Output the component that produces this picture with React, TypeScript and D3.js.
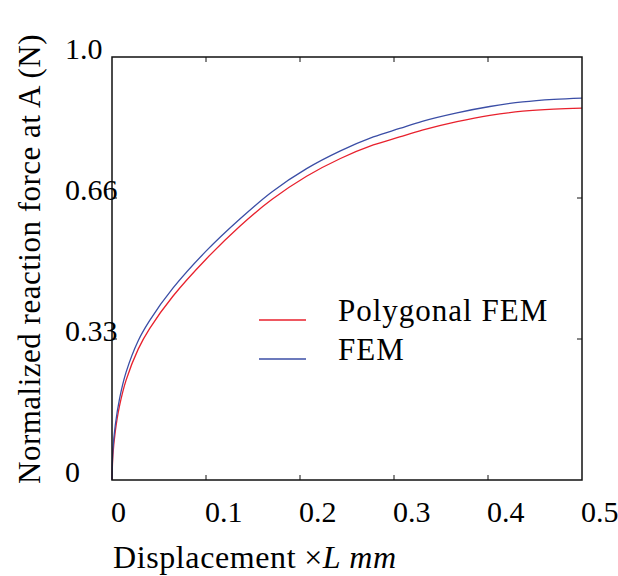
import React, { useRef, useEffect } from 'react';
import * as d3 from 'd3';

// displacement samples (x L mm)
const xs = [0, 0.001, 0.0035, 0.008, 0.015, 0.028, 0.04, 0.065, 0.1, 0.136, 0.17, 0.207, 0.243, 0.278, 0.306, 0.33, 0.367, 0.402, 0.437, 0.47, 0.5];
// normalized reaction force, polygonal FEM
const polyFem = [0, 0.06, 0.115, 0.175, 0.236, 0.31, 0.358, 0.435, 0.522, 0.6, 0.663, 0.718, 0.76, 0.792, 0.811, 0.827, 0.847, 0.862, 0.872, 0.877, 0.879];
// normalized reaction force, FEM
const fem = [0, 0.072, 0.13, 0.192, 0.255, 0.33, 0.377, 0.454, 0.541, 0.617, 0.681, 0.736, 0.778, 0.811, 0.831, 0.848, 0.868, 0.883, 0.894, 0.9, 0.903];

const xTicks = [0, 0.1, 0.2, 0.3, 0.4, 0.5];
const yTicks = [0, 1 / 3, 2 / 3, 1];
const yTickLabels = ['0', '0.33', '0.66', '1.0'];

const seriesNames = ['Polygonal FEM', 'FEM'];
const seriesColors = ['#e8212d', '#3b4ea6'];

function App() {
  const ref = useRef<SVGSVGElement>(null);
  const width = 618, height = 576;
  const m = { left: 112, top: 57, right: 582, bottom: 480 };
  const font = '"Liberation Serif", "DejaVu Serif", serif';

  useEffect(() => {
    const svg = d3.select(ref.current);
    svg.selectAll('*').remove();

    const x = d3.scaleLinear().domain([0, 0.5]).range([m.left, m.right]);
    const y = d3.scaleLinear().domain([0, 1]).range([m.bottom, m.top]);

    const line = d3.line<[number, number]>()
      .x(d => x(d[0]))
      .y(d => y(d[1]))
      .curve(d3.curveCatmullRom.alpha(0.5));

    [polyFem, fem].forEach((vals, i) => {
      svg.append('path')
        .attr('d', line(xs.map((v, k) => [v, vals[k]] as [number, number])))
        .attr('fill', 'none')
        .attr('stroke', seriesColors[i])
        .attr('stroke-width', 1.3);
    });

    // frame
    svg.append('rect')
      .attr('x', m.left).attr('y', m.top)
      .attr('width', m.right - m.left).attr('height', m.bottom - m.top)
      .attr('fill', 'none').attr('stroke', '#111').attr('stroke-width', 1.5);

    // inward ticks on all four sides
    const tl = 5;
    xTicks.slice(1, -1).forEach(t => {
      svg.append('line').attr('x1', x(t)).attr('x2', x(t)).attr('y1', m.bottom).attr('y2', m.bottom - tl).attr('stroke', '#111');
      svg.append('line').attr('x1', x(t)).attr('x2', x(t)).attr('y1', m.top).attr('y2', m.top + tl).attr('stroke', '#111');
    });
    yTicks.slice(1, -1).forEach(t => {
      svg.append('line').attr('x1', m.left).attr('x2', m.left + tl).attr('y1', y(t)).attr('y2', y(t)).attr('stroke', '#111');
      svg.append('line').attr('x1', m.right).attr('x2', m.right - tl).attr('y1', y(t)).attr('y2', y(t)).attr('stroke', '#111');
    });

    // tick labels
    svg.selectAll('.xl').data(xTicks).enter().append('text')
      .attr('x', d => x(d) - 1).attr('y', m.bottom + 42)
      .attr('font-family', font).attr('font-size', 30)
      .text(d => d === 0 ? '0' : String(d));

    svg.selectAll('.yl').data(yTicks).enter().append('text')
      .attr('x', 65).attr('y', d => y(d) + 2)
      .attr('font-family', font).attr('font-size', 30)
      .text((d, i) => yTickLabels[i]);

    // axis titles
    const xt = svg.append('text')
      .attr('x', 113).attr('y', 568)
      .attr('font-family', font).attr('font-size', 32)
      .attr('letter-spacing', 0.6);
    xt.append('tspan').text('Displacement');
    xt.append('tspan').attr('dx', 8).text('×');
    xt.append('tspan').attr('font-style', 'italic').text('L');
    xt.append('tspan').attr('font-style', 'italic').attr('dx', 8).text('mm');

    svg.append('text')
      .attr('transform', `translate(40, 259) rotate(-90)`)
      .attr('text-anchor', 'middle')
      .attr('font-family', font).attr('font-size', 31)
      .attr('letter-spacing', 0.5)
      .text('Normalized reaction force at A (N)');

    // legend
    seriesNames.forEach((name, i) => {
      const ly = 320 + i * 39;
      svg.append('line').attr('x1', 259).attr('x2', 306).attr('y1', ly).attr('y2', ly)
        .attr('stroke', seriesColors[i]).attr('stroke-width', 1.3);
      svg.append('text').attr('x', 338).attr('y', ly + 1)
        .attr('font-family', font).attr('font-size', 31)
        .attr('letter-spacing', 1)
        .text(name);
    });
  }, []);

  return (
    <svg ref={ref} width={width} height={height}
      style={{ position: 'absolute', left: 0, top: 0, background: '#fff' }} />
  );
}

export default App;
